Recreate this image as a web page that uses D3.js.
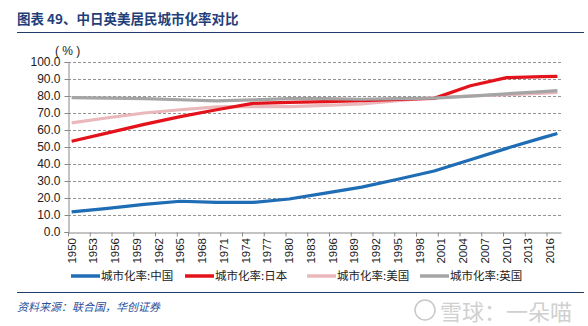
<!DOCTYPE html>
<html><head><meta charset="utf-8">
<script src="https://cdn.jsdelivr.net/npm/d3@7"></script>
<style>body{margin:0;background:#fff}svg{display:block}</style>
</head><body>
<svg id="c" width="588" height="326"></svg>
<script>
const years = [1950,1955,1960,1965,1970,1975,1980,1985,1990,1995,2000,2005,2010,2015,2017];
const china = [11.8,13.9,16.2,18.1,17.4,17.4,19.4,22.9,26.4,31.0,35.9,42.5,49.2,55.5,57.9];
const japan = [53.4,58.3,63.3,67.9,71.9,75.7,76.2,76.7,77.3,78.0,78.6,86.0,90.8,91.4,91.6];
const usa   = [64.2,67.2,70.0,71.9,73.6,73.7,73.7,74.5,75.3,77.3,79.1,80.0,80.8,81.7,82.1];
const uk    = [79.0,78.7,78.4,77.8,77.1,77.7,78.5,78.4,78.1,78.4,78.7,79.9,81.3,82.6,83.2];
const tickYears = d3.range(1950, 2017, 3);
const yTicks = d3.range(0, 101, 10);
const seriesNames = ["城市化率:中国","城市化率:日本","城市化率:美国","城市化率:英国"];
const colors = ["#1f6db4","#e3121b","#eab7bb","#a6a5a6"];

const svg = d3.select("#c");
const x = d3.scaleLinear().domain([1949.5, 2017.5]).range([68, 561]);
const y = d3.scaleLinear().domain([0, 100]).range([232, 62]);

// title
svg.append("text").attr("x",17).attr("y",24).attr("font-family","Noto Sans CJK SC")
  .attr("font-size",13.5).attr("font-weight","bold").attr("fill","#1f3f7a")
  .text("图表 49、中日英美居民城市化率对比");
svg.append("line").attr("x1",17).attr("x2",584).attr("y1",32.5).attr("y2",32.5).attr("stroke","#1f3f6a").attr("stroke-width",1);

// grid
svg.append("g").selectAll("line").data(yTicks.filter(d=>d>0)).join("line")
  .attr("x1",68).attr("x2",561).attr("y1",d=>Math.round(y(d))+0.5).attr("y2",d=>Math.round(y(d))+0.5)
  .attr("stroke","#777").attr("stroke-dasharray","3,2").attr("stroke-width",0.8);

// y axis
const yAxis = d3.axisLeft(y).tickValues(yTicks).tickFormat(d3.format(".1f")).tickSize(4).tickPadding(4);
const gy = svg.append("g").attr("transform","translate(68.5,0)").call(yAxis);
gy.selectAll("path,line").attr("stroke","#888");
gy.selectAll("text").attr("font-family","Liberation Sans").attr("font-size",12).attr("fill","#222");
svg.append("text").attr("x",55).attr("y",55).attr("font-family","Liberation Sans").attr("font-size",12).attr("fill","#222").text("( % )");

// x axis
const xAxis = d3.axisBottom(x).tickValues(tickYears.map(d=>d-0.5)).tickFormat("").tickSize(4).tickSizeOuter(0);
const gx = svg.append("g").attr("transform","translate(0,232.5)").call(xAxis);
gx.selectAll("path,line").attr("stroke","#888");
svg.append("g").selectAll("text").data(tickYears).join("text")
  .attr("transform",d=>`translate(${x(d)+4},238) rotate(-90)`)
  .attr("text-anchor","end").attr("font-family","Liberation Sans").attr("font-size",11.5).attr("fill","#222")
  .text(d=>d);

// lines
const data = [china, japan, usa, uk];
const order = [0,2,1,3];
const line = d3.line().x((d,i)=>x(years[i])).y(d=>y(d));
order.forEach(k=>{
  svg.append("path").datum(data[k]).attr("d",line).attr("fill","none")
    .attr("stroke",colors[k]).attr("stroke-width",3.2).attr("stroke-linejoin","round");
});

// legend
const legX = [71,185,307,420];
const lg = svg.append("g");
seriesNames.forEach((n,i)=>{
  lg.append("line").attr("x1",legX[i]).attr("x2",legX[i]+29).attr("y1",276).attr("y2",276)
    .attr("stroke",colors[i]).attr("stroke-width",3.5);
  lg.append("text").attr("x",legX[i]+30).attr("y",280).attr("font-family","Noto Sans CJK SC")
    .attr("font-size",11.5).attr("fill","#222").text(n);
});

// footer
svg.append("line").attr("x1",17).attr("x2",584).attr("y1",292.5).attr("y2",292.5).attr("stroke","#1f3f6a").attr("stroke-width",1);
svg.append("text").attr("x",17).attr("y",311).attr("font-family","Noto Sans CJK SC").attr("font-size",11)
  .attr("font-style","italic").attr("fill","#2a4f9a").text("资料来源：联合国，华创证券");
svg.append("circle").attr("cx",425).attr("cy",310).attr("r",10).attr("fill","none").attr("stroke","#c8c8c8").attr("stroke-width",1.5);
svg.append("text").attr("x",440).attr("y",320).attr("font-family","Noto Sans CJK SC").attr("font-size",22)
  .attr("fill","#d0d0d0").text("雪球：一朵喵");
</script>
</body></html>
